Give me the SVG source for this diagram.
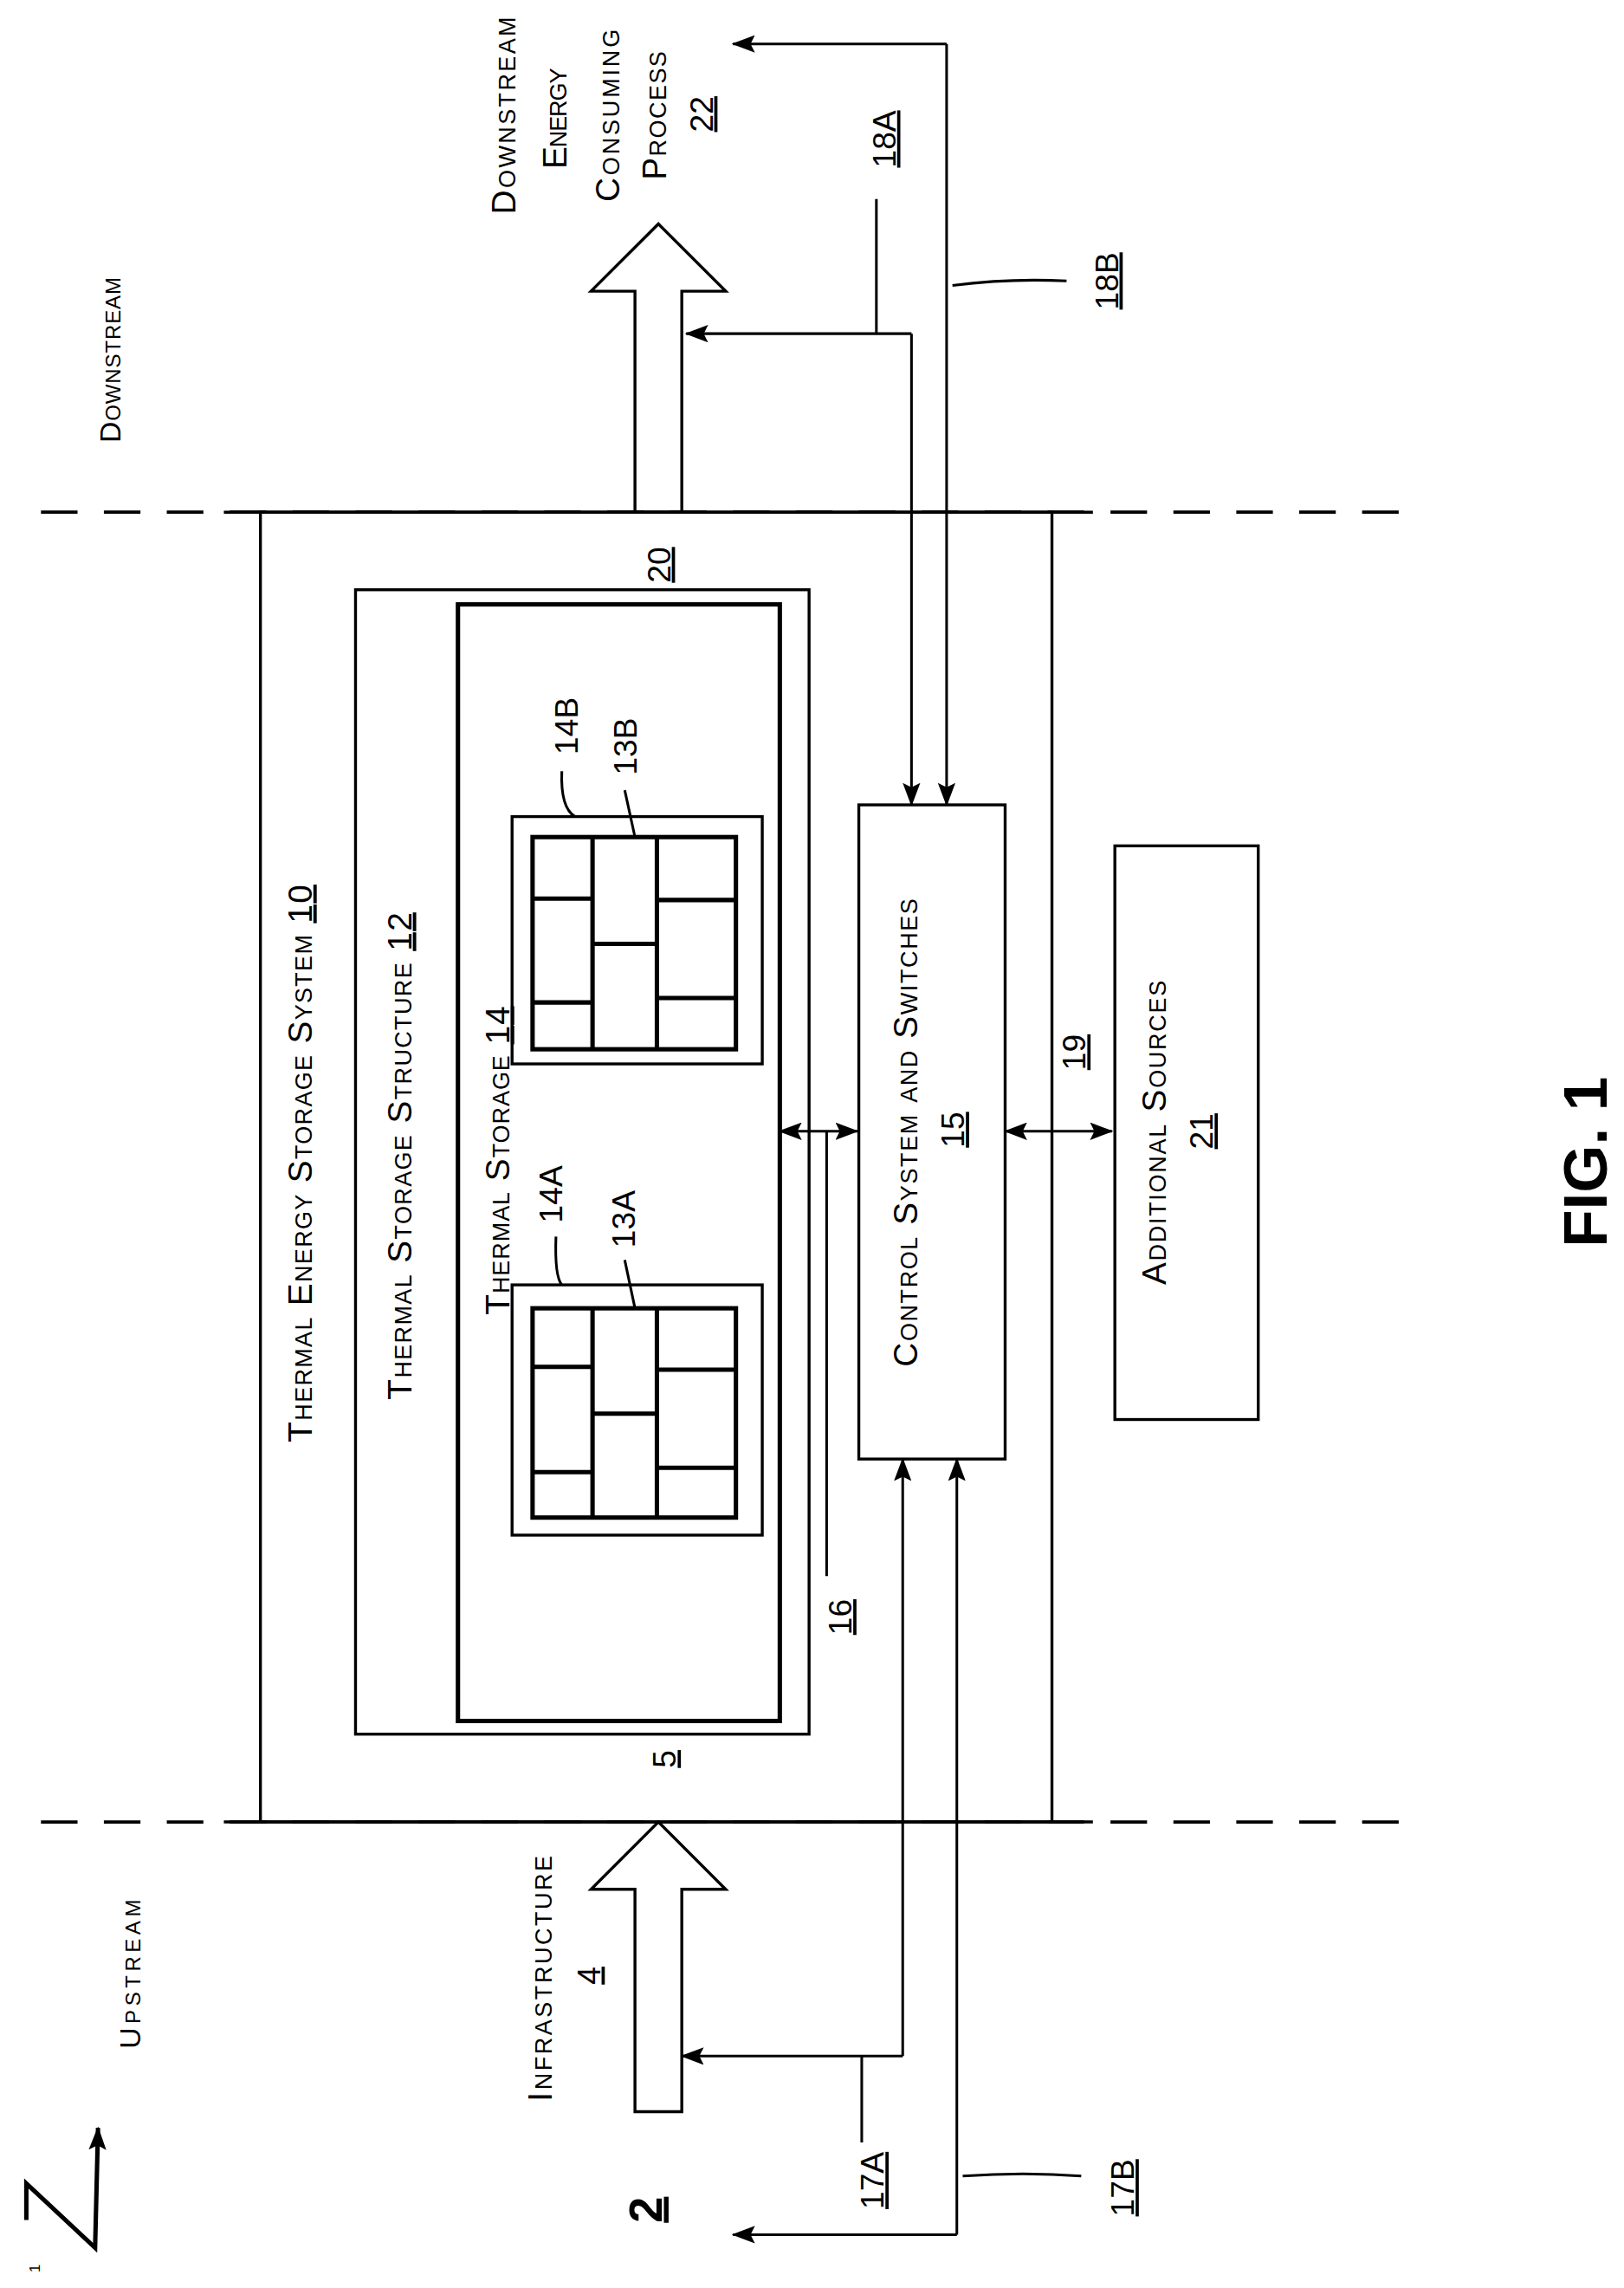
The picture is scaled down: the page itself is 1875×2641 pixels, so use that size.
<svg xmlns="http://www.w3.org/2000/svg" width="1875" height="2641" viewBox="0 0 1875 2641">
<style>
.t{font-family:"Liberation Sans",Arial,sans-serif;font-size:23px;fill:#000;font-variant:small-caps;text-anchor:middle}
.n{font-family:"Liberation Sans",Arial,sans-serif;font-size:22px;fill:#000;text-anchor:middle}
.u{text-decoration:underline}
.b{fill:none;stroke:#000;stroke-width:2}
.l{fill:none;stroke:#000;stroke-width:1.8}
.g{fill:none;stroke:#000;stroke-width:3}
.d{fill:none;stroke:#000;stroke-width:2.2;stroke-dasharray:25 18}
.a{marker-end:url(#ah)}
.aa{marker-end:url(#ah);marker-start:url(#ahs)}
</style>
<defs>
<marker id="ah" markerUnits="userSpaceOnUse" markerWidth="16" markerHeight="12" refX="15" refY="6" orient="auto"><path d="M0,0 L16,6 L0,12 L3,6 Z" fill="#000"/></marker>
<marker id="ahs" markerUnits="userSpaceOnUse" markerWidth="16" markerHeight="12" refX="15" refY="6" orient="auto-start-reverse"><path d="M0,0 L16,6 L0,12 L3,6 Z" fill="#000"/></marker>
</defs>
<rect width="1875" height="2641" fill="#fff"/>
<g transform="scale(1.6892)">
<g id="boundaries">
<path class="d" d="M28,350 L974,350 M28,1245 L974,1245"/>
<path class="b" d="M153,350 L747,350 M153,1245 L747,1245"/>
</g>
<g id="system10"><rect class="b" x="178" y="350" width="541" height="895"/>
<text class="t" transform="translate(213,795) rotate(-90)" textLength="381">Thermal Energy Storage System <tspan class="u">10</tspan></text>
<text class="n" transform="translate(458,386) rotate(-90)"><tspan class="u">20</tspan></text>
<text class="n" transform="translate(462,1202) rotate(-90)"><tspan class="u">5</tspan></text>
</g>
<g id="structure12"><rect class="b" x="243" y="403" width="310" height="782"/>
<text class="t" transform="translate(281,790) rotate(-90)" textLength="333">Thermal Storage Structure <tspan class="u">12</tspan></text>
</g>
<g id="storage14"><rect class="g" x="313" y="413" width="220" height="763"/>
<text class="t" transform="translate(348,793) rotate(-90)" textLength="211">Thermal Storage <tspan class="u">14</tspan></text>
</g>
<g id="module14B">
<rect class="b" x="350" y="558" width="171" height="169"/>
<rect class="g" x="364" y="572" width="139" height="145"/>
<path class="g" d="M405,572 V717 M449,572 V717 M364,614 H405 M364,685 H405 M405,645 H449 M449,615 H503 M449,682 H503"/>
<text class="n" transform="translate(395,496) rotate(-90)">14B</text>
<text class="n" transform="translate(435,510) rotate(-90)">13B</text>
<path class="l" d="M384,527 Q383,552 393,558 M427,540 L434,572"/>
</g>
<g id="module14A">
<rect class="b" x="350" y="878" width="171" height="171"/>
<rect class="g" x="364" y="894" width="139" height="143"/>
<path class="g" d="M405,894 V1037 M449,894 V1037 M364,934 H405 M364,1006 H405 M405,966 H449 M449,936 H503 M449,1003 H503"/>
<text class="n" transform="translate(384,816) rotate(-90)">14A</text>
<text class="n" transform="translate(434,833) rotate(-90)">13A</text>
<path class="l" d="M380,845 Q379,872 384,878 M427,861 L434,894"/>
</g>
<g id="control15"><rect class="b" x="587" y="550" width="100" height="447"/>
<text class="t" transform="translate(627,774) rotate(-90)" textLength="320">Control System and Switches</text>
<text class="n" transform="translate(659,772) rotate(-90)"><tspan class="u">15</tspan></text>
</g>
<g id="sources21"><rect class="b" x="762" y="578" width="98" height="392"/>
<text class="t" transform="translate(797,774) rotate(-90)" textLength="208">Additional Sources</text>
<text class="n" transform="translate(829,773) rotate(-90)"><tspan class="u">21</tspan></text>
</g>
<g id="process22">
<polygon class="b" points="434,350 434,199 404,199 450,153 496,199 466,199 466,350"/>
<text class="t" transform="translate(352,79) rotate(-90)" textLength="135">Downstream</text>
<text class="t" transform="translate(387,81) rotate(-90)" textLength="69">Energy</text>
<text class="t" transform="translate(423,79) rotate(-90)" textLength="118">Consuming</text>
<text class="t" transform="translate(455,79) rotate(-90)" textLength="88">Process</text>
<text class="n" transform="translate(487,78) rotate(-90)"><tspan class="u">22</tspan></text>
</g>
<g id="infrastructure4">
<polygon class="b" points="434,1443 434,1291 404,1291 450,1245 496,1291 466,1291 466,1443"/>
<text class="t" transform="translate(377,1352) rotate(-90)" textLength="168">Infrastructure</text>
<text class="n" transform="translate(410,1350) rotate(-90)"><tspan class="u">4</tspan></text>
</g>
<g id="regions">
<text class="t" transform="translate(82,246) rotate(-90)" textLength="113" style="font-size:20px">Downstream</text>
<text class="t" transform="translate(96,1349) rotate(-90)" textLength="102" style="font-size:20px">Upstream</text>
<text class="n" transform="translate(452,1510) rotate(-90)" style="font-size:32px;font-weight:bold"><tspan class="u">2</tspan></text>
<text class="n" transform="translate(1098,794) rotate(-90)" style="font-size:42px;font-weight:bold">FIG. 1</text>
<polyline class="g" points="18,1517 18,1492 65,1536 67,1454" style="marker-end:url(#ah)"/>
<text class="n" transform="translate(27,1550) rotate(-90)" style="font-size:10px">1</text>
</g>
<g id="connectors">
<path class="l a" d="M623,228 L623,550"/>
<path class="l a" d="M623,228 L469,228"/>
<path class="l a" d="M647,30 L647,550"/>
<path class="l a" d="M647,30 L501,30"/>
<path class="l a" d="M617,1405 L617,997"/>
<path class="l a" d="M617,1405 L466,1405"/>
<path class="l a" d="M654,1527 L654,997"/>
<path class="l a" d="M654,1527 L501,1527"/>
<path class="l aa" d="M533,773 L586,773"/>
<path class="l aa" d="M687,773 L760,773"/>
<path class="l" d="M565,773 L565,1077 M599,136 L599,228 M651,195 Q690,190 729,192 M589,1405 L589,1464 M658,1487 Q700,1484 739,1487"/>
<text class="n" transform="translate(612,95) rotate(-90)"><tspan class="u">18A</tspan></text>
<text class="n" transform="translate(764,192) rotate(-90)"><tspan class="u">18B</tspan></text>
<text class="n" transform="translate(604,1490) rotate(-90)"><tspan class="u">17A</tspan></text>
<text class="n" transform="translate(775,1495) rotate(-90)"><tspan class="u">17B</tspan></text>
<text class="n" transform="translate(582,1105) rotate(-90)"><tspan class="u">16</tspan></text>
<text class="n" transform="translate(742,719) rotate(-90)"><tspan class="u">19</tspan></text>
</g>
</g>
</svg>
